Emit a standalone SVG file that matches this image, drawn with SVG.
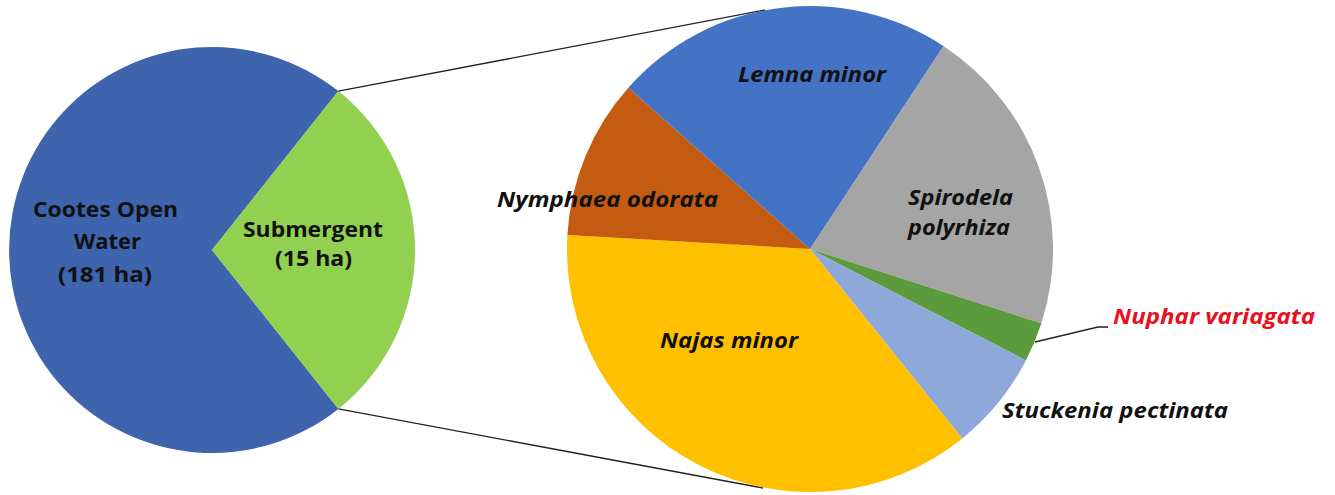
<svg xmlns="http://www.w3.org/2000/svg" width="1335" height="495" viewBox="0 0 1335 495">
<style>
.lbl{font-family:"Open Sans","Liberation Sans",sans-serif;font-weight:bold;fill:#111;font-size:22px}
.sp{font-style:italic}
.conn{fill:none;stroke:#222;stroke-width:1.3}
</style>
<rect width="1335" height="495" fill="#fff"/>
<g id="left-pie">
  <g id="open-water">
    <path d="M212,250 L338.4,408.9 A203,203 0 1 1 338.4,91.1 Z" fill="#3D64AD"/>
    <text class="lbl" x="33" y="217" textLength="145" lengthAdjust="spacingAndGlyphs">Cootes Open</text>
    <text class="lbl" x="74" y="249" textLength="67" lengthAdjust="spacingAndGlyphs">Water</text>
    <text class="lbl" x="58" y="282" textLength="94" lengthAdjust="spacingAndGlyphs">(181 ha)</text>
  </g>
  <g id="submergent">
    <path d="M212,250 L338.4,91.1 A203,203 0 0 1 338.4,408.9 Z" fill="#92D050"/>
    <text class="lbl" x="243" y="237" textLength="140" lengthAdjust="spacingAndGlyphs">Submergent</text>
    <text class="lbl" x="275" y="266" textLength="77" lengthAdjust="spacingAndGlyphs">(15 ha)</text>
  </g>
</g>
<g id="connectors">
  <line class="conn" x1="338.4" y1="91.1" x2="765" y2="10"/>
  <line class="conn" x1="338.4" y1="408.9" x2="763" y2="488"/>
  <polyline class="conn" points="1035,342 1098,327 1108,327"/>
</g>
<g id="right-pie">
  <g id="spirodela">
    <path d="M810,249 L943.4,45.9 A243,243 0 0 1 1041.4,323.3 Z" fill="#A5A5A5"/>
    <text class="lbl sp" x="908" y="205" textLength="105" lengthAdjust="spacingAndGlyphs">Spirodela</text>
    <text class="lbl sp" x="908" y="235" textLength="102" lengthAdjust="spacingAndGlyphs">polyrhiza</text>
  </g>
  <g id="nuphar">
    <path d="M810,249 L1041.4,323.3 A243,243 0 0 1 1025.9,360.4 Z" fill="#5B9B3E"/>
    <text class="lbl sp" x="1113" y="324" textLength="202" lengthAdjust="spacingAndGlyphs" style="fill:#E8101E">Nuphar variagata</text>
  </g>
  <g id="stuckenia">
    <path d="M810,249 L1025.9,360.4 A243,243 0 0 1 962.3,438.4 Z" fill="#8FA8DA"/>
    <text class="lbl sp" x="1002" y="418" textLength="226" lengthAdjust="spacingAndGlyphs">Stuckenia pectinata</text>
  </g>
  <g id="najas">
    <path d="M810,249 L962.3,438.4 A243,243 0 0 1 567.4,235 Z" fill="#FFC000"/>
    <text class="lbl sp" x="660" y="348" textLength="138" lengthAdjust="spacingAndGlyphs">Najas minor</text>
  </g>
  <g id="nymphaea">
    <path d="M810,249 L567.4,235 A243,243 0 0 1 628.3,87.7 Z" fill="#C55A11"/>
    <text class="lbl sp" x="497" y="207" textLength="221" lengthAdjust="spacingAndGlyphs">Nymphaea odorata</text>
  </g>
  <g id="lemna">
    <path d="M810,249 L628.3,87.7 A243,243 0 0 1 943.4,45.9 Z" fill="#4472C4"/>
    <text class="lbl sp" x="738" y="82" textLength="148" lengthAdjust="spacingAndGlyphs">Lemna minor</text>
  </g>
</g>
</svg>
